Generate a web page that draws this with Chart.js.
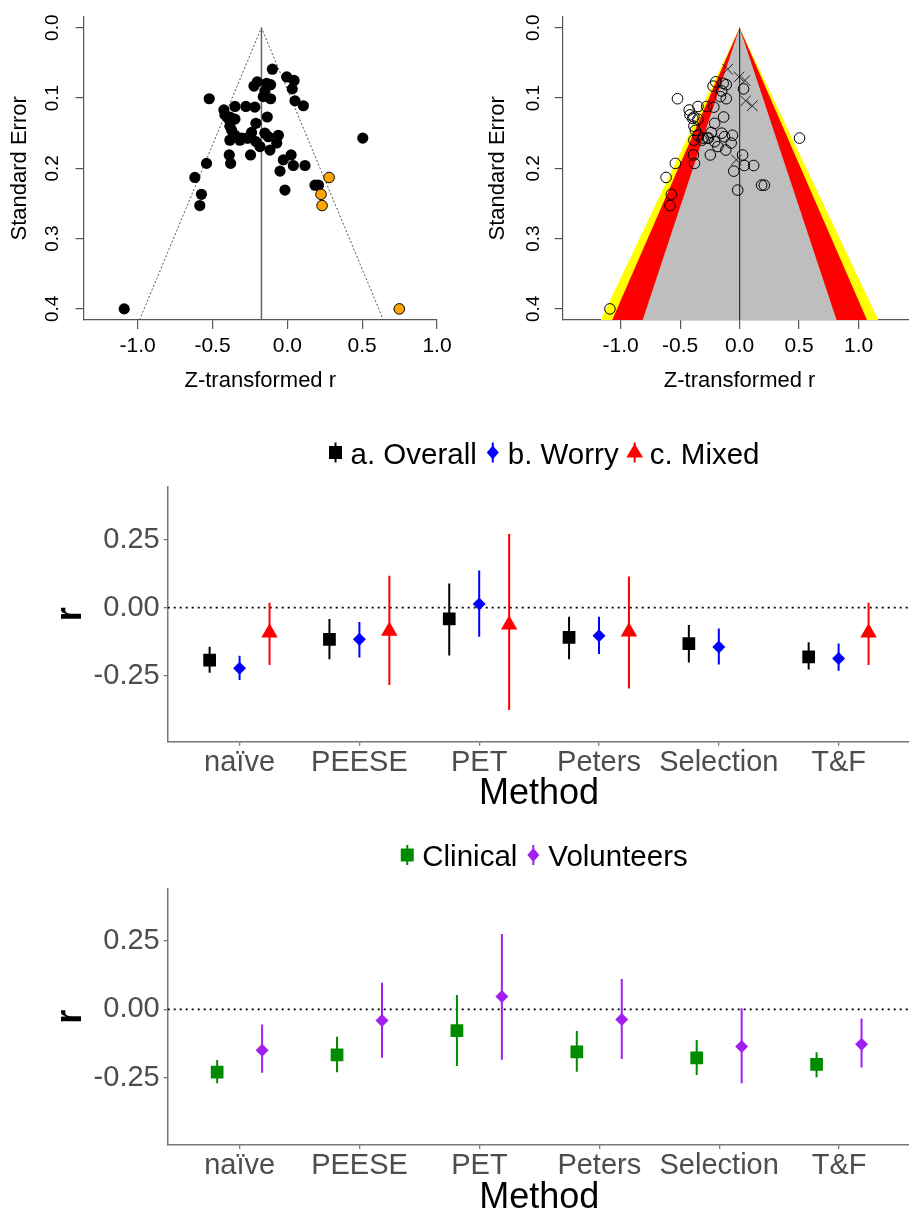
<!DOCTYPE html>
<html>
<head>
<meta charset="utf-8">
<script src="https://cdn.jsdelivr.net/npm/chart.js@4.4.1/dist/chart.umd.min.js"></script>
<style>
  html, body { margin: 0; padding: 0; background: #fff; overflow: hidden; width: 909px; height: 1215px; }
  canvas { position: absolute; }
</style>
</head>
<body>
<canvas id="funnel" width="460" height="400" style="left:0;top:0"></canvas>
<canvas id="contour" width="470" height="400" style="left:455px;top:0"></canvas>
<canvas id="byType" width="920" height="400" style="left:0;top:420px"></canvas>
<canvas id="bySample" width="920" height="400" style="left:0;top:825px"></canvas>
<script>
// ---- funnel plots: study effects (Fisher z) and standard errors ----
const studyZ = [-1.090, 0.504, -0.100, -0.004, 0.045, 0.033, 0.051, 0.107, -0.201, -0.223,
  -0.112, -0.150, -0.161, -0.112, -0.522, -0.350, -0.277, -0.217, -0.424, -0.417,
  -0.384, -0.350, -0.384, -0.134, -0.210, -0.350, -0.384, -0.317, -0.272, -0.239,
  -0.210, -0.183, -0.150, -0.127, -0.060, -0.071, -0.116, -0.246, -0.388, -0.379,
  -0.540, -0.618, -0.574, -0.585, -0.049, -0.016, 0.025, -0.027, 0.040, 0.118,
  0.185, 0.208, -0.306, -0.261, -0.372, -0.138, -0.395];
const studySE = [0.400, 0.157, 0.059, 0.070, 0.075, 0.087, 0.104, 0.111, 0.077, 0.083,
  0.081, 0.090, 0.098, 0.101, 0.101, 0.112, 0.112, 0.113, 0.117, 0.124,
  0.127, 0.130, 0.140, 0.127, 0.136, 0.153, 0.160, 0.160, 0.157, 0.149,
  0.162, 0.169, 0.150, 0.155, 0.153, 0.164, 0.174, 0.181, 0.181, 0.193,
  0.193, 0.213, 0.237, 0.253, 0.204, 0.231, 0.181, 0.188, 0.196, 0.196,
  0.224, 0.224, 0.157, 0.157, 0.146, 0.079, 0.129];
// marker in the contour plot: 'o' circle, 'x' cross
const studyMark = ['o','o','x','x','x','o','x','x','o','o',
  'o','o','o','o','o','o','o','o','o','o',
  'o','o','o','o','o','o','o','o','o','o',
  'o','o','o','o','o','o','o','o','o','o',
  'o','o','o','o','o','o','o','x','o','o',
  'o','o','o','o','o','o','o'];
// trim-and-fill imputed studies
const filledZ = [0.279, 0.225, 0.232, 0.748];
const filledSE = [0.213, 0.237, 0.253, 0.400];
const pooledZ = -0.173;
const seTicks = [0, 0.1, 0.2, 0.3, 0.4];
const zTicks = [-1, -0.5, 0, 0.5, 1];
const seBottom = 0.4158;
const contourCrit = [2.807, 2.576, 1.96];
const contourColors = ['#FFFF00', '#FF0000', '#BEBEBE'];

// ---- estimates by method ----
const methods = ['naïve', 'PEESE', 'PET', 'Peters', 'Selection', 'T&F'];
const rTicks = [-0.25, 0, 0.25];
const overallEst = [-0.192, -0.116, -0.041, -0.109, -0.132, -0.180];
const overallLo  = [-0.238, -0.189, -0.175, -0.189, -0.201, -0.226];
const overallHi  = [-0.143, -0.041, 0.089, -0.033, -0.063, -0.127];
const worryEst = [-0.222, -0.116, 0.014, -0.103, -0.144, -0.186];
const worryLo  = [-0.265, -0.182, -0.106, -0.170, -0.208, -0.231];
const worryHi  = [-0.176, -0.052, 0.136, -0.033, -0.076, -0.131];
const mixedEst = [-0.092, -0.085, -0.062, -0.088, null, -0.092];
const mixedLo  = [-0.210, -0.283, -0.375, -0.296, null, -0.210];
const mixedHi  = [0.018, 0.117, 0.270, 0.114, null, 0.018];
const clinicalEst = [-0.229, -0.166, -0.078, -0.155, -0.177, -0.201];
const clinicalLo  = [-0.270, -0.230, -0.207, -0.228, -0.240, -0.248];
const clinicalHi  = [-0.185, -0.100, 0.052, -0.079, -0.112, -0.157];
const volunteerEst = [-0.149, -0.041, 0.047, -0.037, -0.136, -0.127];
const volunteerLo  = [-0.231, -0.177, -0.184, -0.181, -0.270, -0.212];
const volunteerHi  = [-0.055, 0.097, 0.275, 0.111, 0.004, -0.033];

const FONT = "'Liberation Sans', Arial, sans-serif";
Chart.defaults.font.family = FONT;
Chart.defaults.animation = false;
Chart.defaults.events = [];
Chart.defaults.plugins.legend.display = false;
Chart.defaults.plugins.tooltip.enabled = false;

// base-R style y labels, rotated
const rotatedYTicks = {
  id: 'rotatedYTicks',
  afterDraw(chart, args, opts) {
    const s = chart.scales.y, ctx = chart.ctx;
    ctx.save();
    ctx.font = opts.size + 'px ' + FONT;
    ctx.fillStyle = '#000';
    ctx.textAlign = 'center';
    ctx.textBaseline = 'middle';
    s.ticks.forEach(t => {
      ctx.save();
      ctx.translate(opts.x, s.getPixelForValue(t.value));
      ctx.rotate(-Math.PI / 2);
      ctx.fillText(t.value.toFixed(1), 0, 0);
      ctx.restore();
    });
    ctx.restore();
  }
};

// ggplot style legend with pointrange keys
function drawMarker(ctx, style, x, y) {
  ctx.beginPath();
  if (style === 'rect') ctx.rect(x - 6.5, y - 6.5, 13, 13);
  else if (style === 'rectRot') { ctx.moveTo(x, y - 7); ctx.lineTo(x + 6, y); ctx.lineTo(x, y + 7); ctx.lineTo(x - 6, y); }
  else { ctx.moveTo(x, y - 9); ctx.lineTo(x + 8.3, y + 5); ctx.lineTo(x - 8.3, y + 5); }
  ctx.closePath();
  ctx.fill();
}
const keyLegend = {
  id: 'keyLegend',
  afterDraw(chart, args, opts) {
    const ctx = chart.ctx;
    ctx.save();
    ctx.font = '29.5px ' + FONT;
    const widths = opts.items.map(it => ctx.measureText(it.label).width);
    const total = 7 + widths.reduce((a, w) => a + 15 + w, 0) + 16 * (opts.items.length - 1);
    let x = opts.cx - total / 2 + 7;
    opts.items.forEach((it, i) => {
      ctx.strokeStyle = it.color;
      ctx.fillStyle = it.color;
      ctx.lineWidth = 2;
      ctx.beginPath();
      ctx.moveTo(x, opts.y - 10);
      ctx.lineTo(x, opts.y + 10);
      ctx.stroke();
      drawMarker(ctx, it.style, x, opts.y);
      ctx.fillStyle = '#000';
      ctx.textBaseline = 'alphabetic';
      ctx.fillText(it.label, x + 15, opts.baseline);
      x += 15 + widths[i] + 16;
    });
    ctx.restore();
  }
};

function fixed(size) { return s => { if (s.isHorizontal()) s.height = size; else s.width = size; }; }
function setTicks(list) { return s => { s.ticks = list.map(v => ({value: v})); }; }

function funnelScales(xmin, xmax, yWidth, yTitlePad) {
  return {
    x: {
      type: 'linear', min: xmin, max: xmax, bounds: 'data', offset: false,
      afterBuildTicks: setTicks(zTicks), afterFit: fixed(80),
      ticks: {callback: v => v.toFixed(1), font: {size: 21}, color: '#000', padding: 5, autoSkip: false, maxRotation: 0},
      grid: {drawOnChartArea: false, tickLength: 9, color: '#555', lineWidth: 1.2},
      border: {color: '#555', width: 1.2},
      title: {display: true, text: 'Z-transformed r', font: {size: 22}, color: '#000', padding: {top: 0, bottom: 5.8}}
    },
    y: {
      type: 'linear', min: -0.0157, max: seBottom, reverse: true, bounds: 'data',
      afterBuildTicks: setTicks(seTicks), afterFit: fixed(yWidth),
      ticks: {display: false},
      grid: {drawOnChartArea: false, tickLength: 8, color: '#555', lineWidth: 1.2},
      border: {color: '#555', width: 1.2},
      title: {display: true, text: 'Standard Error', font: {size: 22}, color: '#000', padding: {top: yTitlePad, bottom: 0}}
    }
  };
}

function pts(xs, ys, keep) {
  const out = [];
  xs.forEach((v, i) => { if (!keep || keep(i)) out.push({x: v, y: ys[i]}); });
  return out;
}

// funnel plot with trim and fill
new Chart(document.getElementById('funnel'), {
  type: 'scatter',
  data: {
    datasets: [
      {data: pts(filledZ, filledSE), pointRadius: 5.3, backgroundColor: '#FFA500', borderColor: '#000', borderWidth: 1},
      {data: pts(studyZ, studySE), pointRadius: 5.6, backgroundColor: '#000', borderWidth: 0},
      {type: 'line', data: [{x: pooledZ, y: 0}, {x: pooledZ, y: seBottom}], borderColor: '#666', borderWidth: 1.5, pointRadius: 0},
      {type: 'line', data: [{x: pooledZ - 1.96 * seBottom, y: seBottom}, {x: pooledZ, y: 0}, {x: pooledZ + 1.96 * seBottom, y: seBottom}],
        borderColor: '#555', borderWidth: 1, borderDash: [2, 2], pointRadius: 0}
    ]
  },
  options: {
    responsive: false,
    layout: {padding: {left: 0, top: 16.7, right: 23, bottom: 0}},
    scales: funnelScales(-1.362, 1.0, 83.5, 6.8),
    plugins: {rotatedYTicks: {x: 53, size: 19}}
  },
  plugins: [rotatedYTicks]
});

// contour-enhanced funnel plot
const contourSets = contourCrit.map((c, i) => ({
  type: 'line',
  data: [{x: -c * seBottom, y: seBottom}, {x: 0, y: 0}, {x: c * seBottom, y: seBottom}],
  borderWidth: 0, pointRadius: 0, fill: 'shape', backgroundColor: contourColors[i]
})).reverse();
new Chart(document.getElementById('contour'), {
  type: 'scatter',
  data: {
    datasets: [
      {data: pts(studyZ, studySE, i => studyMark[i] === 'x'), pointStyle: 'crossRot', pointRadius: 7.5, borderColor: '#222', borderWidth: 1},
      {data: pts(studyZ, studySE, i => studyMark[i] === 'o'), pointRadius: 5.3, backgroundColor: 'rgba(0,0,0,0)', borderColor: '#000', borderWidth: 1},
      {type: 'line', data: [{x: 0, y: 0}, {x: 0, y: seBottom}], borderColor: '#333', borderWidth: 1.2, pointRadius: 0},
      ...contourSets
    ]
  },
  options: {
    responsive: false,
    layout: {padding: {left: 0, top: 16.7, right: 6.3, bottom: 0}},
    scales: funnelScales(-1.487, 1.487, 107.7, 29.8),
    plugins: {rotatedYTicks: {x: 79, size: 19}}
  },
  plugins: [rotatedYTicks]
});

// estimates with intervals, dodged within each method
function groupSets(est, lo, hi, offset, color, style, radius) {
  const p = [], b = [];
  est.forEach((v, i) => {
    if (v === null) return;
    p.push({x: i + 1 + offset, y: v});
    b.push({x: i + 1 + offset, y: [lo[i], hi[i]]});
  });
  return {
    point: {type: 'scatter', data: p, pointStyle: style, pointRadius: radius, backgroundColor: color, borderWidth: 0},
    range: {type: 'bar', data: b, backgroundColor: color, grouped: false, maxBarThickness: 2}
  };
}

function methodChart(id, groups, ymin, ymax, top, bottom, legendItems, legendY, legendBase, titlePad) {
  const refLine = {type: 'line', data: [{x: 0.4, y: 0}, {x: 6.6, y: 0}], borderColor: '#000', borderWidth: 1.8, borderDash: [2, 4], pointRadius: 0};
  new Chart(document.getElementById(id), {
    type: 'scatter',
    data: {datasets: [...groups.map(g => g.point), ...groups.map(g => g.range), refLine]},
    options: {
      responsive: false,
      layout: {padding: {left: 0, top: top, right: 7.1, bottom: 0}},
      scales: {
        x: {
          type: 'linear', min: 0.4, max: 6.6, bounds: 'data', offset: false,
          afterBuildTicks: setTicks([1, 2, 3, 4, 5, 6]), afterFit: fixed(400 - bottom),
          ticks: {callback: v => methods[v - 1], font: {size: 29}, color: '#4D4D4D', padding: 0, autoSkip: false, maxRotation: 0},
          grid: {drawOnChartArea: false, offset: false, tickLength: 4, color: '#777', lineWidth: 1.3},
          border: {color: '#777', width: 1.5},
          title: {display: true, text: 'Method', font: {size: 36}, color: '#000', padding: {top: 0, bottom: titlePad}}
        },
        y: {
          type: 'linear', min: ymin, max: ymax, bounds: 'data',
          afterBuildTicks: setTicks(rTicks), afterFit: fixed(167.7),
          ticks: {callback: v => v.toFixed(2), font: {size: 29}, color: '#4D4D4D', padding: 4},
          grid: {drawOnChartArea: false, tickLength: 4, color: '#777', lineWidth: 1.3},
          border: {color: '#777', width: 1.5},
          title: {display: true, text: 'r', font: {size: 36, weight: 'bold'}, color: '#000', padding: {top: 49.4, bottom: 0}}
        }
      },
      plugins: {keyLegend: {items: legendItems, cx: 544, y: legendY, baseline: legendBase}}
    },
    plugins: [keyLegend]
  });
}

methodChart('byType', [
  groupSets(overallEst, overallLo, overallHi, -0.25, '#000000', 'rect', 9),
  groupSets(worryEst, worryLo, worryHi, 0, '#0000FF', 'rectRot', 6.5),
  groupSets(mixedEst, mixedLo, mixedHi, 0.25, '#FF0000', 'triangle', 9.5)
], -0.491, 0.4435, 66.7, 321.7, [
  {label: 'a. Overall', color: '#000000', style: 'rect'},
  {label: 'b. Worry', color: '#0000FF', style: 'rectRot'},
  {label: 'c. Mixed', color: '#FF0000', style: 'triangle'}
], 32.5, 44, 4);

methodChart('bySample', [
  groupSets(clinicalEst, clinicalLo, clinicalHi, -0.1875, '#008B00', 'rect', 9),
  groupSets(volunteerEst, volunteerLo, volunteerHi, 0.1875, '#A020F0', 'rectRot', 6.5)
], -0.495, 0.4416, 63.3, 320, [
  {label: 'Clinical', color: '#008B00', style: 'rect'},
  {label: 'Volunteers', color: '#A020F0', style: 'rectRot'}
], 30, 40.7, 5.7);
</script>
</body>
</html>
